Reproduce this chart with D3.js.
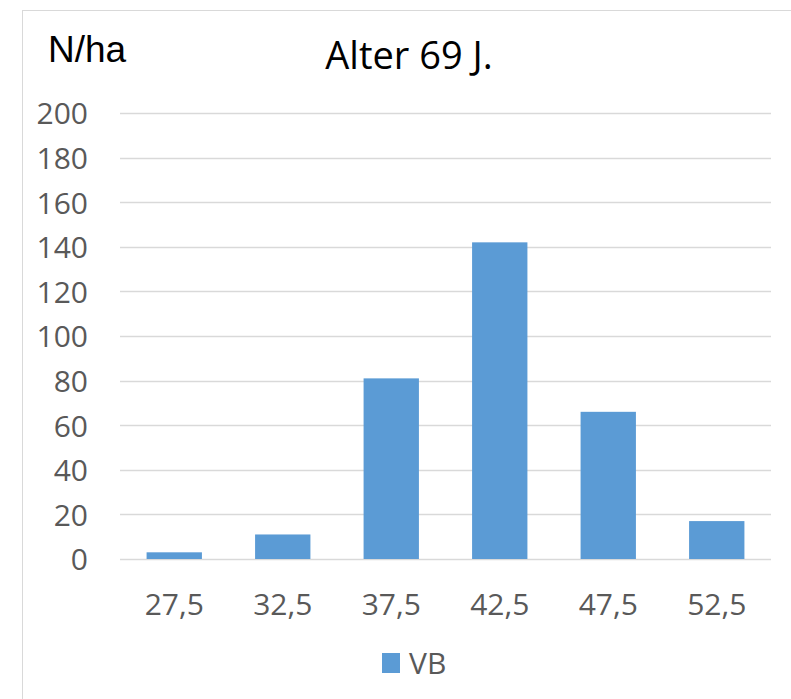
<!DOCTYPE html>
<html>
<head>
<meta charset="utf-8">
<script src="https://cdn.jsdelivr.net/npm/d3@7"></script>
<style>
  body { margin: 0; background: #fff; }
  text { font-family: "Open Sans", sans-serif; }
</style>
</head>
<body>
<div id="chart"></div>
<script>
// data
var categories = ["27,5", "32,5", "37,5", "42,5", "47,5", "52,5"];
var values = [3, 11, 81, 142, 66, 17];
var yTicks = [0, 20, 40, 60, 80, 100, 120, 140, 160, 180, 200];
var seriesName = "VB";

var width = 791, height = 699;
var plot = { left: 120, right: 771, top: 113, bottom: 559 };

var svg = d3.select("#chart")
    .append("svg")
    .attr("width", width)
    .attr("height", height);

// chart frame
svg.append("rect")
    .attr("x", 22.5)
    .attr("y", 10.5)
    .attr("width", width)
    .attr("height", height)
    .attr("fill", "none")
    .attr("stroke", "#d9d9d9");

var x = d3.scaleBand()
    .domain(categories)
    .range([plot.left, plot.right])
    .paddingInner(0.49)
    .paddingOuter(0.245);

var y = d3.scaleLinear()
    .domain([0, 200])
    .range([plot.bottom, plot.top]);

// gridlines
svg.append("g")
    .selectAll("line")
    .data(yTicks)
    .enter().append("line")
    .attr("x1", plot.left)
    .attr("x2", plot.right)
    .attr("y1", function(d) { return Math.round(y(d)) + 0.5; })
    .attr("y2", function(d) { return Math.round(y(d)) + 0.5; })
    .attr("stroke", "#d9d9d9")
    .attr("stroke-width", 1.5);

// y labels
var yAxis = svg.append("g")
    .attr("transform", "translate(" + (plot.left - 32) + ",0)")
    .call(d3.axisLeft(y).tickValues(yTicks).tickSize(0).tickPadding(0));
yAxis.select(".domain").remove();
yAxis.selectAll("text")
    .style("font-family", "'Open Sans', sans-serif")
    .style("font-size", "30px")
    .attr("fill", "#595959")
    .attr("dy", "0.36em");

// x labels
var xAxis = svg.append("g")
    .attr("transform", "translate(0," + plot.bottom + ")")
    .call(d3.axisBottom(x).tickSize(0).tickPadding(0));
xAxis.select(".domain").remove();
xAxis.selectAll("text")
    .style("font-family", "'Open Sans', sans-serif")
    .style("font-size", "30px")
    .attr("fill", "#595959")
    .attr("y", 56)
    .attr("dy", 0);

// bars
svg.append("g")
    .selectAll("rect")
    .data(values)
    .enter().append("rect")
    .attr("x", function(d, i) { return x(categories[i]); })
    .attr("width", x.bandwidth())
    .attr("y", function(d) { return y(d); })
    .attr("height", function(d) { return y(0) - y(d); })
    .attr("fill", "#5b9bd5");

// title and unit
svg.append("text")
    .attr("x", 409)
    .attr("y", 69)
    .attr("text-anchor", "middle")
    .style("font-size", "38px")
    .attr("fill", "#000")
    .text("Alter 69 J.");

svg.append("text")
    .attr("x", 48)
    .attr("y", 62)
    .style("font-family", "'Liberation Sans', Arial, sans-serif")
    .style("font-size", "37px")
    .attr("fill", "#000")
    .text("N/ha");

// legend
var legend = svg.append("g").attr("transform", "translate(382,653)");
legend.append("rect")
    .attr("width", 18)
    .attr("height", 20)
    .attr("fill", "#5b9bd5");
legend.append("text")
    .attr("x", 27)
    .attr("y", 21)
    .style("font-size", "30px")
    .attr("fill", "#595959")
    .text(seriesName);
</script>
</body>
</html>
